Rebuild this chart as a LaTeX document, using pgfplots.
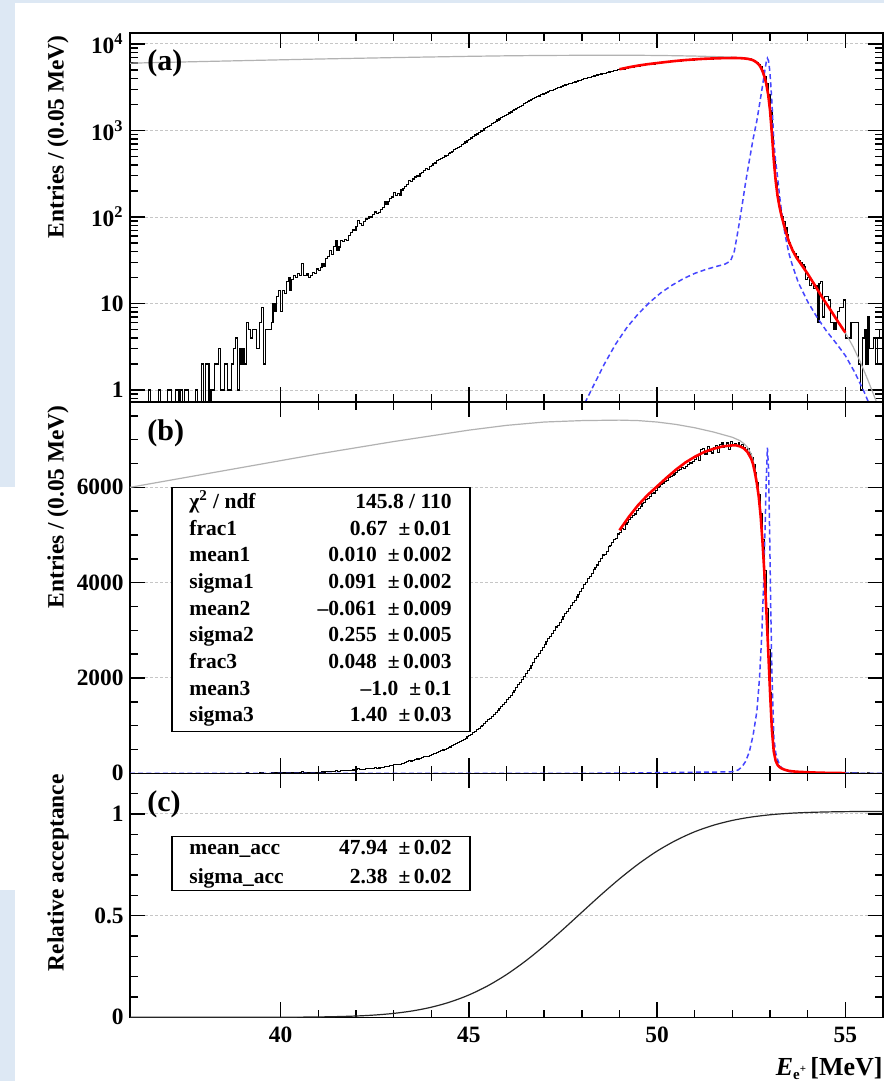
\documentclass[border=0pt]{standalone}
\usepackage{pgfplots}
\pgfplotsset{compat=1.18}
\usepackage{pgfplotstable}
\usepackage{fontspec}
\setmainfont{Liberation Serif}
\definecolor{bgblue}{RGB}{221,232,244}
\definecolor{dblue}{RGB}{70,70,255}

\pgfplotstableread[row sep=\\]{E n\\
36.00 0\\ 36.05 0\\ 36.10 0\\ 36.15 0\\ 36.20 0\\ 36.25 0\\ 36.30 0\\ 36.35 0\\ 36.40 0\\ 36.45 0\\
36.50 1\\ 36.55 0\\ 36.60 0\\ 36.65 0\\ 36.70 0\\ 36.75 1\\ 36.80 0\\ 36.85 0\\ 36.90 0\\ 36.95 0\\
37.00 1\\ 37.05 1\\ 37.10 0\\ 37.15 0\\ 37.20 1\\ 37.25 1\\ 37.30 0\\ 37.35 1\\ 37.40 0\\ 37.45 1\\
37.50 1\\ 37.55 0\\ 37.60 0\\ 37.65 0\\ 37.70 0\\ 37.75 1\\ 37.80 0\\ 37.85 0\\ 37.90 2\\ 37.95 0\\
38.00 2\\ 38.05 2\\ 38.10 0\\ 38.15 1\\ 38.20 1\\ 38.25 2\\ 38.30 2\\ 38.35 3\\ 38.40 1\\ 38.45 1\\
38.50 2\\ 38.55 2\\ 38.60 1\\ 38.65 1\\ 38.70 2\\ 38.75 3\\ 38.80 4\\ 38.85 1\\ 38.90 3\\ 38.95 2\\
39.00 3\\ 39.05 2\\ 39.10 6\\ 39.15 5\\ 39.20 4\\ 39.25 5\\ 39.30 5\\ 39.35 3\\ 39.40 3\\ 39.45 6\\
39.50 9\\ 39.55 2\\ 39.60 5\\ 39.65 5\\ 39.70 5\\ 39.75 6\\ 39.80 10\\ 39.85 8\\ 39.90 12\\ 39.95 14\\
40.00 8\\ 40.05 14\\ 40.10 13\\ 40.15 18\\ 40.20 20\\ 40.25 14\\ 40.30 19\\ 40.35 21\\ 40.40 20\\ 40.45 22\\
40.50 21\\ 40.55 29\\ 40.60 21\\ 40.65 21\\ 40.70 22\\ 40.75 20\\ 40.80 21\\ 40.85 23\\ 40.90 22\\ 40.95 25\\
41.00 24\\ 41.05 26\\ 41.10 29\\ 41.15 27\\ 41.20 33\\ 41.25 35\\ 41.30 41\\ 41.35 37\\ 41.40 46\\ 41.45 54\\
41.50 41\\ 41.55 45\\ 41.60 54\\ 41.65 52\\ 41.70 55\\ 41.75 54\\ 41.80 61\\ 41.85 66\\ 41.90 72\\ 41.95 70\\
42.00 77\\ 42.05 92\\ 42.10 84\\ 42.15 80\\ 42.20 88\\ 42.25 95\\ 42.30 97\\ 42.35 102\\ 42.40 100\\ 42.45 108\\
42.50 114\\ 42.55 110\\ 42.60 112\\ 42.65 121\\ 42.70 128\\ 42.75 150\\ 42.80 140\\ 42.85 152\\ 42.90 163\\ 42.95 170\\
43.00 194\\ 43.05 178\\ 43.10 186\\ 43.15 180\\ 43.20 205\\ 43.25 212\\ 43.30 225\\ 43.35 240\\ 43.40 265\\ 43.45 258\\
43.50 275\\ 43.55 290\\ 43.60 303\\ 43.65 296\\ 43.70 318\\ 43.75 330\\ 43.80 345\\ 43.85 362\\ 43.90 355\\ 43.95 380\\
44.00 398\\ 44.05 415\\ 44.10 420\\ 44.15 446\\ 44.20 460\\ 44.25 470\\ 44.30 490\\ 44.35 507\\ 44.40 515\\ 44.45 540\\
44.50 553\\ 44.55 575\\ 44.60 598\\ 44.65 620\\ 44.70 640\\ 44.75 660\\ 44.80 690\\ 44.85 712\\ 44.90 735\\ 44.95 765\\
45.00 790\\ 45.05 820\\ 45.10 850\\ 45.15 885\\ 45.20 910\\ 45.25 945\\ 45.30 985\\ 45.35 1010\\ 45.40 1045\\ 45.45 1085\\
45.50 1120\\ 45.55 1150\\ 45.60 1195\\ 45.65 1230\\ 45.70 1275\\ 45.75 1320\\ 45.80 1360\\ 45.85 1400\\ 45.90 1450\\ 45.95 1495\\
46.00 1540\\ 46.05 1590\\ 46.10 1640\\ 46.15 1700\\ 46.20 1740\\ 46.25 1800\\ 46.30 1860\\ 46.35 1910\\ 46.40 1960\\ 46.45 2030\\
46.50 2090\\ 46.55 2150\\ 46.60 2200\\ 46.65 2270\\ 46.70 2330\\ 46.75 2400\\ 46.80 2450\\ 46.85 2510\\ 46.90 2580\\ 46.95 2640\\
47.00 2700\\ 47.05 2770\\ 47.10 2830\\ 47.15 2870\\ 47.20 2930\\ 47.25 2990\\ 47.30 3070\\ 47.35 3110\\ 47.40 3160\\ 47.45 3230\\
47.50 3290\\ 47.55 3350\\ 47.60 3400\\ 47.65 3460\\ 47.70 3520\\ 47.75 3580\\ 47.80 3630\\ 47.85 3700\\ 47.90 3760\\ 47.95 3810\\
48.00 3880\\ 48.05 3960\\ 48.10 4010\\ 48.15 4080\\ 48.20 4120\\ 48.25 4200\\ 48.30 4270\\ 48.35 4310\\ 48.40 4370\\ 48.45 4440\\
48.50 4500\\ 48.55 4580\\ 48.60 4600\\ 48.65 4660\\ 48.70 4750\\ 48.75 4780\\ 48.80 4840\\ 48.85 4900\\ 48.90 4930\\ 48.95 5020\\
49.00 5060\\ 49.05 5130\\ 49.10 5110\\ 49.15 5230\\ 49.20 5260\\ 49.25 5320\\ 49.30 5370\\ 49.35 5400\\ 49.40 5440\\ 49.45 5510\\
49.50 5560\\ 49.55 5590\\ 49.60 5660\\ 49.65 5680\\ 49.70 5740\\ 49.75 5770\\ 49.80 5800\\ 49.85 5870\\ 49.90 5880\\ 49.95 5940\\
50.00 5990\\ 50.05 6010\\ 50.10 6060\\ 50.15 6090\\ 50.20 6120\\ 50.25 6150\\ 50.30 6210\\ 50.35 6220\\ 50.40 6250\\ 50.45 6280\\
50.50 6320\\ 50.55 6350\\ 50.60 6370\\ 50.65 6420\\ 50.70 6390\\ 50.75 6440\\ 50.80 6480\\ 50.85 6510\\ 50.90 6500\\ 50.95 6540\\
51.00 6590\\ 51.05 6650\\ 51.10 6560\\ 51.15 6790\\ 51.20 6820\\ 51.25 6700\\ 51.30 6680\\ 51.35 6850\\ 51.40 6760\\ 51.45 6720\\
51.50 6830\\ 51.55 6880\\ 51.60 6740\\ 51.65 6900\\ 51.70 6950\\ 51.75 6840\\ 51.80 6870\\ 51.85 6930\\ 51.90 6800\\ 51.95 6960\\
52.00 6880\\ 52.05 6920\\ 52.10 6870\\ 52.15 6930\\ 52.20 6860\\ 52.25 6900\\ 52.30 6840\\ 52.35 6780\\ 52.40 6820\\ 52.45 6700\\
52.50 6620\\ 52.55 6480\\ 52.60 6320\\ 52.65 6100\\ 52.70 5850\\ 52.75 5450\\ 52.80 4900\\ 52.85 4250\\ 52.90 3450\\ 52.95 2600\\
53.00 1700\\ 53.05 900\\ 53.10 450\\ 53.15 250\\ 53.20 170\\ 53.25 128\\ 53.30 102\\ 53.35 88\\ 53.40 75\\ 53.45 62\\
53.50 50\\ 53.55 44\\ 53.60 40\\ 53.65 38\\ 53.70 35\\ 53.75 31\\ 53.80 30\\ 53.85 28\\ 53.90 27\\ 53.95 19\\
54.00 20\\ 54.05 16\\ 54.10 17\\ 54.15 15\\ 54.20 16\\ 54.25 6\\ 54.30 17\\ 54.35 18\\ 54.40 7\\ 54.45 12\\
54.50 12\\ 54.55 11\\ 54.60 6\\ 54.65 6\\ 54.70 5\\ 54.75 6\\ 54.80 8\\ 54.85 9\\ 54.90 9\\ 54.95 11\\
55.00 4\\ 55.05 4\\ 55.10 4\\ 55.15 6\\ 55.20 6\\ 55.25 6\\ 55.30 6\\ 55.35 2\\ 55.40 1\\ 55.45 4\\
55.50 5\\ 55.55 2\\ 55.60 7\\ 55.65 3\\ 55.70 3\\ 55.75 4\\ 55.80 2\\ 55.85 4\\ 55.90 5\\ 55.95 5\\
56.00 5\\
}\hist

\pgfplotstableread[row sep=\\]{E v\\
36 6000\\ 37 6140\\ 38 6280\\ 39 6420\\ 40 6560\\ 41 6700\\ 42 6830\\ 43 6960\\ 44 7080\\ 45 7200\\
46 7300\\ 47 7370\\ 48 7400\\ 49 7410\\ 49.5 7400\\ 50 7370\\ 50.5 7320\\ 51 7250\\ 51.5 7160\\
52.0 7050\\ 52.2 6980\\ 52.3 6920\\ 52.4 6840\\ 52.5 6700\\ 52.55 6560\\ 52.6 6370\\ 52.65 6140\\
52.7 5850\\ 52.75 5440\\ 52.8 4880\\ 52.85 4220\\ 52.9 3470\\ 52.95 2610\\ 53.0 1710\\ 53.05 905\\
53.1 452\\ 53.15 261\\ 53.2 176\\ 53.25 132\\ 53.3 105\\ 53.35 87\\ 53.4 72\\ 53.5 52\\ 53.6 41\\
53.7 34\\ 53.8 29.5\\ 54.0 22\\ 54.2 16\\ 54.4 11.5\\ 54.6 8.5\\ 54.8 6.2\\ 55.0 4.6\\ 55.2 3.2\\
55.4 2.1\\ 55.6 1.3\\ 55.8 0.78\\ 56.0 0.45\\
}\grayfit

\pgfplotstableread[row sep=\\]{E v\\
49.0 5100\\ 49.25 5380\\ 49.5 5630\\ 49.75 5840\\ 50.0 6020\\ 50.25 6200\\ 50.5 6370\\ 50.75 6520\\
51.0 6640\\ 51.25 6740\\ 51.5 6810\\ 51.75 6860\\ 52.0 6880\\ 52.1 6880\\ 52.2 6860\\ 52.3 6820\\
52.4 6740\\ 52.5 6600\\ 52.55 6480\\ 52.6 6300\\ 52.65 6080\\ 52.7 5800\\ 52.75 5400\\ 52.8 4850\\
52.85 4200\\ 52.9 3450\\ 52.95 2600\\ 53.0 1700\\ 53.05 900\\ 53.1 450\\ 53.15 260\\ 53.2 175\\
53.25 132\\ 53.3 105\\ 53.35 87\\ 53.4 72\\ 53.5 52\\ 53.6 41\\ 53.7 34\\ 53.8 29.5\\ 54.0 22\\
54.2 16\\ 54.4 11.5\\ 54.6 8.5\\ 54.8 6.2\\ 55.0 4.6\\
}\redfit

\pgfplotstableread[row sep=\\]{E v\\
36.0 0.0001\\ 44.0 0.0005\\ 46.0 0.006\\ 47.0 0.08\\ 47.5 0.25\\ 48.0 0.6\\ 48.3 1.1\\ 48.6 2.0\\
48.9 3.4\\ 49.2 5.3\\ 49.5 7.6\\ 49.8 10.3\\ 50.1 13.3\\ 50.4 16.3\\ 50.7 19.4\\ 51.0 22.3\\
51.3 24.8\\ 51.6 27.0\\ 51.8 28.5\\ 51.95 31\\ 52.05 40\\ 52.15 70\\ 52.25 130\\ 52.35 250\\
52.45 450\\ 52.55 800\\ 52.65 1300\\ 52.72 2000\\ 52.78 2900\\ 52.83 4000\\ 52.87 5200\\ 52.9 6200\\
52.93 6830\\ 52.96 6400\\ 52.99 5000\\ 53.02 3400\\ 53.05 2100\\ 53.1 750\\ 53.15 430\\ 53.2 290\\
53.25 180\\ 53.3 120\\ 53.4 62\\ 53.5 38\\ 53.6 27\\ 53.75 17.5\\ 54.0 10.5\\ 54.25 6.9\\ 54.5 4.8\\
54.75 3.5\\ 55.0 2.5\\ 55.25 1.6\\ 55.5 0.95\\ 55.75 0.52\\ 56.0 0.28\\
}\resp

\pgfplotstableread[row sep=\\]{E v\\
36.0 0.0000\\ 38.0 0.0000\\ 40.0 0.0004\\ 40.5 0.0009\\ 41.0 0.0018\\ 41.5 0.0035\\ 42.0 0.0064\\
42.5 0.0112\\ 43.0 0.0192\\ 43.5 0.0314\\ 44.0 0.0495\\ 44.5 0.0752\\ 45.0 0.1098\\ 45.5 0.1547\\
46.0 0.2102\\ 46.5 0.2761\\ 47.0 0.3509\\ 47.5 0.4321\\ 48.0 0.5166\\ 48.5 0.6007\\ 49.0 0.6807\\
49.5 0.7537\\ 50.0 0.8175\\ 50.5 0.8702\\ 51.0 0.9127\\ 51.5 0.9448\\ 52.0 0.9684\\ 52.5 0.9849\\
53.0 0.9960\\ 53.5 1.0032\\ 54.0 1.0075\\ 54.5 1.0100\\ 55.0 1.0115\\ 55.5 1.0122\\ 56.0 1.0126\\
}\acc

\newcommand\tl{\fontsize{11.7}{14}\selectfont\bfseries}
\newcommand\st{\fontsize{10.75}{13}\selectfont\bfseries}
\newcommand\PM{±\,}

\begin{document}
\begin{tikzpicture}
\path[use as bounding box] (0,0) rectangle (442pt,-540.5pt);
\fill[white] (0,0) rectangle (442pt,-540.5pt);
\fill[bgblue] (0,0) rectangle (442pt,-1.5pt);
\fill[bgblue] (0,0) rectangle (7.5pt,-243.5pt);
\fill[bgblue] (0,-445pt) rectangle (7.5pt,-540.5pt);

\pgfplotsset{
  every axis/.append style={
    scale only axis, width=376.5pt, xmin=36, xmax=56,
    xtick={40,45,50,55}, minor x tick num=4,
    tick align=inside, major tick length=7.5pt, minor tick length=3.8pt,
    axis line style={line width=0.8pt},
    tick style={line width=0.7pt, black},
    ymajorgrids, major grid style={gray!45, dash pattern=on 1.5pt off 1pt, line width=0.5pt},
    tick label style={font=\tl},
    yticklabel style={inner xsep=3pt},
    xticklabel style={inner ysep=4.5pt},
    scaled y ticks=false,
  },
}

% (a)
\begin{axis}[at={(65pt,-201pt)}, anchor=south west, height=184.5pt,
  ymode=log, ymin=0.727, ymax=13400,
  ytick={1,10,100,1000,10000},
  yticklabels={1,10,10\textsuperscript{2},10\textsuperscript{3},10\textsuperscript{4}},
  minor ytick={0.8,0.9,2,3,4,5,6,7,8,9,20,30,40,50,60,70,80,90,200,300,400,500,600,700,800,900,2000,3000,4000,5000,6000,7000,8000,9000},
  xticklabels={}]
\addplot[black, line width=0.6pt, const plot] table[x=E, y expr={max(\thisrow{n},0.3)}] {\hist};
\addplot[gray!60, line width=0.6pt] table[x=E, y=v] {\grayfit};
\addplot[dblue, line width=0.75pt, dash pattern=on 2.5pt off 1.6pt] table[x=E, y=v] {\resp};
\addplot[red, line width=1.3pt] table[x=E, y=v] {\redfit};
\end{axis}

% (b)
\begin{axis}[at={(65pt,-386.65pt)}, anchor=south west, height=185.65pt,
  ymin=0, ymax=7790,
  ytick={0,2000,4000,6000}, yticklabels={0,2000,4000,6000},
  minor ytick={500,1000,1500,2500,3000,3500,4500,5000,5500,6500,7000,7500},
  xticklabels={}]
\addplot[black, line width=0.55pt, const plot] table[x=E, y=n] {\hist};
\addplot[gray!60, line width=0.6pt] table[x=E, y=v] {\grayfit};
\addplot[dblue, line width=0.75pt, dash pattern=on 2.5pt off 1.6pt] table[x=E, y=v] {\resp};
\addplot[red, line width=1.3pt] table[x=E, y=v] {\redfit};
\end{axis}

% (c)
\begin{axis}[at={(65pt,-508.65pt)}, anchor=south west, height=122pt,
  ymin=0, ymax=1.2,
  ytick={0,0.5,1}, yticklabels={0,0.5,1},
  minor ytick={0.1,0.2,0.3,0.4,0.6,0.7,0.8,0.9,1.1},
  xticklabels={40,45,50,55}]
\addplot[black!85, line width=0.6pt, smooth] table[x=E, y=v] {\acc};
\end{axis}

% axis titles
\node[rotate=90, anchor=east, inner sep=0] at (29pt,-17.5pt) {\tl Entries / (0.05 MeV)};
\node[rotate=90, anchor=east, inner sep=0] at (29pt,-202.5pt) {\tl Entries / (0.05 MeV)};
\node[rotate=90, anchor=east, inner sep=0] at (29pt,-387pt) {\tl Relative acceptance};
\node[anchor=base east, inner sep=0] at (441.5pt,-537.5pt)
  {\fontsize{13}{15}\selectfont\bfseries\itshape E\/\upshape{\fontsize{7.5}{8}\selectfont\raisebox{-2.2pt}{e}\raisebox{1.2pt}{\fontsize{5.5}{6}\selectfont +}}\,[MeV]};

% panel letters
\node[anchor=west, inner sep=0] at (73.5pt,-31.5pt) {\fontsize{15}{18}\selectfont\bfseries (a)};
\node[anchor=west, inner sep=0] at (73.5pt,-216.5pt) {\fontsize{15}{18}\selectfont\bfseries (b)};
\node[anchor=west, inner sep=0] at (73.5pt,-402pt) {\fontsize{15}{18}\selectfont\bfseries (c)};

% stats box (b)
\draw[fill=white, line width=0.75pt] (86pt,-243.65pt) rectangle (235pt,-365.85pt);
\foreach \y/\a/\b in {
  -254.25/{χ\textsuperscript{2} / ndf}/{145.8 / 110},
  -267.6/{frac1}/{0.67\hspace{5.5pt}\PM 0.01},
  -280.9/{mean1}/{0.010\hspace{5.5pt}\PM 0.002},
  -294.25/{sigma1}/{0.091\hspace{5.5pt}\PM 0.002},
  -307.55/{mean2}/{–0.061\hspace{5.5pt}\PM 0.009},
  -320.9/{sigma2}/{0.255\hspace{5.5pt}\PM 0.005},
  -334.2/{frac3}/{0.048\hspace{5.5pt}\PM 0.003},
  -347.55/{mean3}/{–1.0\hspace{5.5pt}\PM 0.1},
  -360.85/{sigma3}/{1.40\hspace{5.5pt}\PM 0.03}}{
  \node[anchor=base west, inner sep=0] at (94.5pt,\y pt) {\st \a};
  \node[anchor=base east, inner sep=0] at (226pt,\y pt) {\st \b};
}

% stats box (c)
\draw[fill=white, line width=0.75pt] (86pt,-418.35pt) rectangle (235pt,-445.35pt);
\node[anchor=base west, inner sep=0] at (94.5pt,-427pt) {\st mean\_acc};
\node[anchor=base east, inner sep=0] at (226pt,-427pt) {\st 47.94\hspace{5.5pt}\PM 0.02};
\node[anchor=base west, inner sep=0] at (94.5pt,-441.5pt) {\st sigma\_acc};
\node[anchor=base east, inner sep=0] at (226pt,-441.5pt) {\st 2.38\hspace{5.5pt}\PM 0.02};
\end{tikzpicture}
\end{document}
